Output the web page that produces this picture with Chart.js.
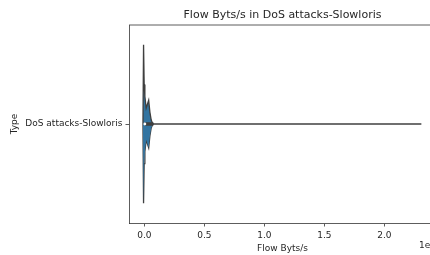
<!DOCTYPE html>
<html>
<head>
<meta charset="utf-8">
<script src="https://cdn.jsdelivr.net/npm/chart.js@4.4.1/dist/chart.umd.min.js"></script>
<style>
  html, body { margin: 0; padding: 0; background: #fff; overflow: hidden; width: 430px; height: 255px; }
  canvas { display: block; }
</style>
</head>
<body>
<canvas id="violin" width="440" height="255"></canvas>
<script>
// data
const categories = ['DoS attacks-Slowloris'];
// kernel density outline: value (bytes/s) -> half width in category units
const densityValues = [-1.17e6, -0.67e6, -0.17e6, 0.42e6, 1.5e6, 3.6e6, 4.6e6, 5.7e6, 6.7e6, 7.5e6];
const densityWidths = [0, 0.40, 0.20, 0.14, 0.08, 0.12, 0.06, 0.02, 0.005, 0];
// inner box: min, q1, median, q3, max
const boxStats = [0, 0.2e6, 0.4e6, 7.5e6, 2.308e8];
const xTickValues = [0, 0.5e8, 1.0e8, 1.5e8, 2.0e8];
const xTickLabels = ['0.0', '0.5', '1.0', '1.5', '2.0'];

const textColor = '#262626';
const lineGray = '#3f3f3f';
const fontFamily = '"DejaVu Sans", sans-serif';

const upper = densityValues.map((v, i) => ({ x: v, y: densityWidths[i] }));
const lower = densityValues.map((v, i) => ({ x: v, y: -densityWidths[i] }));

// top + right spines and the offset text
const framePlugin = {
    id: 'frame',
    afterDraw(chart) {
        const { ctx, chartArea } = chart;
        ctx.save();
        ctx.strokeStyle = '#333';
        ctx.lineWidth = 0.8;
        ctx.beginPath();
        ctx.moveTo(chartArea.left, chartArea.top);
        ctx.lineTo(chartArea.right, chartArea.top);
        ctx.lineTo(chartArea.right, chartArea.bottom);
        ctx.stroke();
        ctx.fillStyle = textColor;
        ctx.font = '9px ' + fontFamily;
        ctx.textAlign = 'right';
        ctx.textBaseline = 'middle';
        ctx.fillText('1e8', chartArea.right, 246);
        ctx.restore();
    }
};

new Chart(document.getElementById('violin'), {
    type: 'scatter',
    data: {
        datasets: [
            {
                data: upper, showLine: true, pointRadius: 0, borderColor: lineGray, borderWidth: 1.3,
                backgroundColor: '#3274a1', fill: '+1', order: 3
            },
            {
                data: lower, showLine: true, pointRadius: 0, borderColor: lineGray, borderWidth: 1.3,
                fill: false, order: 3
            },
            {
                data: [{ x: boxStats[0], y: 0 }, { x: boxStats[4], y: 0 }], showLine: true, pointRadius: 0,
                borderColor: lineGray, borderWidth: 1.6, order: 2
            },
            {
                data: [{ x: boxStats[1], y: 0 }, { x: boxStats[3], y: 0 }], showLine: true, pointRadius: 0,
                borderColor: lineGray, borderWidth: 3.5, order: 1
            },
            {
                data: [{ x: boxStats[2], y: 0 }], showLine: false, pointRadius: 1.4,
                pointBackgroundColor: '#ffffff', pointBorderColor: '#ffffff', pointBorderWidth: 0, order: 0
            }
        ]
    },
    options: {
        responsive: false,
        animation: false,
        events: [],
        layout: { padding: { left: 0, right: 4, top: 0, bottom: 0 } },
        plugins: {
            legend: { display: false },
            tooltip: { enabled: false },
            title: {
                display: true,
                fullSize: false,
                text: 'Flow Byts/s in DoS attacks-Slowloris',
                color: textColor,
                font: { family: fontFamily, size: 11, weight: 'normal' },
                padding: { top: 8.5, bottom: 3.3 }
            }
        },
        scales: {
            x: {
                type: 'linear',
                min: -0.128e8,
                max: 2.43e8,
                afterBuildTicks: (scale) => { scale.ticks = xTickValues.map(v => ({ value: v })); },
                afterFit: (scale) => { scale.height = 32; },
                ticks: {
                    color: textColor,
                    font: { family: fontFamily, size: 9 },
                    padding: 3.5,
                    maxRotation: 0,
                    callback: (v) => xTickLabels[xTickValues.indexOf(v)]
                },
                grid: { drawOnChartArea: false, tickLength: 3.5, color: '#333', tickWidth: 0.8 },
                border: { color: '#333', width: 0.8 },
                title: {
                    display: true,
                    text: 'Flow Byts/s',
                    color: textColor,
                    font: { family: fontFamily, size: 9 },
                    padding: { top: 0, bottom: 1 }
                }
            },
            y: {
                type: 'linear',
                min: -0.5,
                max: 0.5,
                afterBuildTicks: (scale) => { scale.ticks = [{ value: 0 }]; },
                afterFit: (scale) => { scale.width = 129; },
                ticks: {
                    color: textColor,
                    font: { family: fontFamily, size: 9 },
                    padding: 3,
                    callback: () => categories[0]
                },
                grid: { drawOnChartArea: false, tickLength: 3.5, color: '#333', tickWidth: 0.8 },
                border: { color: '#333', width: 0.8 },
                title: {
                    display: true,
                    text: 'Type',
                    color: textColor,
                    font: { family: fontFamily, size: 9 },
                    padding: { top: 9, bottom: 0 }
                }
            }
        }
    },
    plugins: [framePlugin]
});
</script>
</body>
</html>
